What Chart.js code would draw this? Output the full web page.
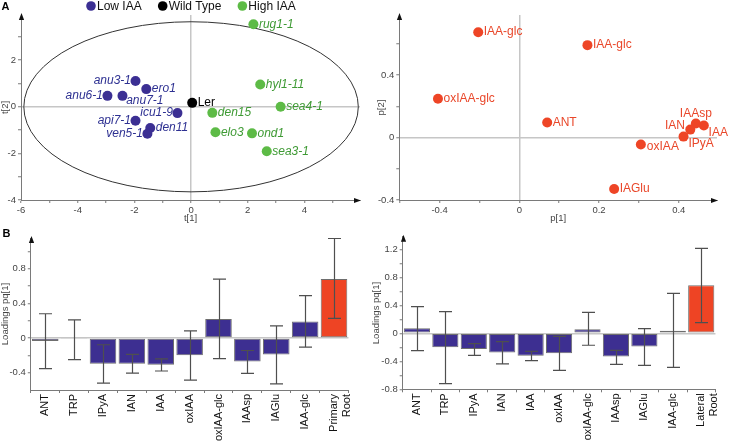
<!DOCTYPE html>
<html>
<head>
<meta charset="utf-8">
<script src="https://cdn.jsdelivr.net/npm/chart.js@4.4.1/dist/chart.umd.min.js"></script>
<style>
  html, body { margin:0; padding:0; background:#fff; }
  body { width:729px; height:441px; position:relative; overflow:hidden; }
  canvas { position:absolute; }
</style>
</head>
<body>
<canvas id="scores" width="365" height="228" style="left:0px;top:0px"></canvas>
<canvas id="loadings" width="364" height="228" style="left:365px;top:0px"></canvas>
<canvas id="primary" width="362" height="213" style="left:0px;top:228px"></canvas>
<canvas id="lateral" width="367" height="213" style="left:362px;top:228px"></canvas>
<script>
// ---------------- DATA ----------------
// Panel A, left: PCA scores t[1] / t[2]
const lowIAANames  = ['anu3-1','ero1','anu6-1','anu7-1','icu1-9','api7-1','den11','ven5-1'];
const lowIAAT1     = [-1.96,-1.58,-2.95,-2.42,-0.48,-1.96,-1.44,-1.54];
const lowIAAT2     = [ 1.11, 0.76, 0.47, 0.47,-0.27,-0.60,-0.91,-1.16];
const wildTypeNames = ['Ler'];
const wildTypeT1    = [0.04];
const wildTypeT2    = [0.17];
const highIAANames = ['rug1-1','hyl1-11','sea4-1','den15','elo3','ond1','sea3-1'];
const highIAAT1    = [2.20, 2.44, 3.16, 0.75, 0.86, 2.15, 2.67];
const highIAAT2    = [3.54, 0.96, 0.00,-0.26,-1.09,-1.14,-1.91];
const hotellingT1 = 5.9;   // ellipse half-width  (t[1] units)
const hotellingT2 = 3.65;  // ellipse half-height (t[2] units)

// Panel A, right: PCA loadings p[1] / p[2]
const loadingNames = ['IAA-glc','IAA-glc','oxIAA-glc','ANT','IAAsp','IAN','IAA','IPyA','oxIAA','IAGlu'];
const loadingP1    = [-0.103, 0.171,-0.204, 0.070, 0.443, 0.429, 0.463, 0.412, 0.305, 0.238];
const loadingP2    = [ 0.675, 0.592, 0.248, 0.096, 0.090, 0.051, 0.077, 0.006,-0.045,-0.329];
const loadingP1TickText = {'-0.2':'-0.4', '0':'0', '0.2':'0.2', '0.4':'0.4'};

// Panel B: loadings pq[1] with error bars
const metabolites = ['ANT','TRP','IPyA','IAN','IAA','oxIAA','oxIAA-glc','IAAsp','IAGlu','IAA-glc'];
const primaryCategories = [...metabolites, ['Primary','Root']];
const primaryLoading  = [-0.035,-0.012,-0.296,-0.296,-0.310,-0.200, 0.218,-0.272,-0.190, 0.190, 0.680];
const primaryErrUpper = [ 0.280, 0.210,-0.078,-0.190,-0.241, 0.082, 0.680,-0.144, 0.140, 0.490, 1.148];
const primaryErrLower = [-0.354,-0.250,-0.520,-0.405,-0.381,-0.486,-0.237,-0.408,-0.530,-0.105, 0.226];

const lateralCategories = [...metabolites, ['Lateral','Root']];
const lateralLoading  = [ 0.071,-0.200,-0.224,-0.276,-0.319,-0.286, 0.057,-0.333,-0.190, 0.038, 0.686];
const lateralErrUpper = [ 0.380, 0.310,-0.148,-0.120,-0.257,-0.043, 0.300,-0.243, 0.067, 0.571, 1.214];
const lateralErrLower = [-0.248,-0.720,-0.314,-0.438,-0.390,-0.529,-0.171,-0.443,-0.457,-0.486, 0.152];

// ---------------- STYLE ----------------
const FONT = "'Liberation Sans', Arial, Helvetica, sans-serif";
Chart.defaults.font.family = FONT;
Chart.defaults.color = '#444';
const AXIS = '#7a7a7a', TICK_TXT = '#444', ZERO = '#c6c6c6';
const BLUE = '#3B2F93', BLUE_TXT = '#2E3192';
const GREEN = '#5DBB46', GREEN_TXT = '#3E9A34';
const RED = '#EE4526', RED_TXT = '#E9472A';
const BAR_BLUE = '#3D2F91', BAR_RED = '#EE4424';

const PLACES = {
  left:       {dx:-4.5, dy:0,    align:'right'},
  right:      {dx: 5.5, dy:0,    align:'left'},
  belowRight: {dx: 3.7, dy:5.3,  align:'left'},
  above:      {dx: 0,   dy:-9.7, align:'center'},
  leftUp:     {dx:-5.3, dy:-3.7, align:'right'},
  rightDown:  {dx: 4.7, dy:7.3,  align:'left'},
  lowRight:   {dx: 5.0, dy:7.0,  align:'left'},
  rightLow:   {dx: 6.0, dy:2.3,  align:'left'}
};
const scorePlace = {'anu3-1':'left','ero1':'right','anu6-1':'left','anu7-1':'belowRight','icu1-9':'left',
                    'api7-1':'left','den11':'right','ven5-1':'left'};
const loadingPlace = {'IAAsp':'above','IAN':'leftUp','IAA':'rightDown','IPyA':'lowRight','oxIAA':'rightLow'};

function tenths(v){ return Math.round(v*10); }
function fmt1(v){ const r = tenths(v)/10; return String(r === 0 ? 0 : r); }

function linearAxis(cfg){
  return {
    type:'linear', min:cfg.min, max:cfg.max,
    border:{display:true, color:AXIS, width:1},
    grid:{display:true, drawOnChartArea:true, drawTicks:true, tickLength:3, tickColor:AXIS, tickWidth:1,
          color: c => (c.tick && Math.abs(c.tick.value) < 1e-9) ? ZERO : 'rgba(0,0,0,0)', lineWidth:1.5},
    ticks:{stepSize:cfg.step, includeBounds:false, autoSkip:false, maxRotation:0, minRotation:0,
           padding:2, color:TICK_TXT, font:{size:9.5}, callback:cfg.label},
    title:{display:true, text:cfg.title, color:TICK_TXT, font:{size:9.5}, padding:cfg.titlePad},
    afterFit: cfg.fit
  };
}

function arrowsPlugin(up, right){
  return {id:'arrows', afterDraw(chart){
    const {ctx, chartArea:a} = chart; ctx.save(); ctx.fillStyle = '#111';
    if (up){ const x = Math.round(a.left)+0.5; ctx.beginPath(); ctx.moveTo(x, a.top-2);
      ctx.lineTo(x-2.6, a.top+5); ctx.lineTo(x+2.6, a.top+5); ctx.closePath(); ctx.fill(); }
    if (right){ const y = Math.round(a.bottom)+0.5; ctx.beginPath(); ctx.moveTo(a.right+1, y);
      ctx.lineTo(a.right-6, y-2.6); ctx.lineTo(a.right-6, y+2.6); ctx.closePath(); ctx.fill(); }
    ctx.restore();
  }};
}
function letterPlugin(txt, x, y){
  return {id:'letter', afterDraw(chart){
    const ctx = chart.ctx; ctx.save(); ctx.font = 'bold 11px ' + FONT; ctx.fillStyle = '#000';
    ctx.textAlign = 'left'; ctx.textBaseline = 'middle'; ctx.fillText(txt, x, y); ctx.restore();
  }};
}
function pointLabelPlugin(placeMap){
  return {id:'ptLabels', afterDatasetsDraw(chart){
    const ctx = chart.ctx; ctx.save(); ctx.textBaseline = 'middle';
    chart.data.datasets.forEach((ds, di) => {
      ctx.font = ds.labelFont;
      chart.getDatasetMeta(di).data.forEach((pt, i) => {
        const name = ds.data[i].name; const p = PLACES[placeMap[name] || 'right'];
        ctx.fillStyle = ds.labelColor; ctx.textAlign = p.align;
        ctx.fillText(name, pt.x + p.dx, pt.y + p.dy);
      });
    });
    ctx.restore();
  }};
}
const ellipsePlugin = {id:'ellipse', beforeDatasetsDraw(chart){
  const {ctx, scales:{x, y}} = chart;
  const cx = x.getPixelForValue(0), cy = y.getPixelForValue(0);
  const rx = x.getPixelForValue(hotellingT1) - cx, ry = cy - y.getPixelForValue(hotellingT2);
  ctx.save(); ctx.strokeStyle = '#333'; ctx.lineWidth = 1; ctx.beginPath();
  ctx.ellipse(cx, cy, rx, ry, 0, 0, Math.PI*2); ctx.stroke(); ctx.restore();
}};
const dotLegendPlugin = {id:'dotLegend', afterDraw(chart){
  const ctx = chart.ctx; ctx.save(); ctx.font = '12px ' + FONT; ctx.textBaseline = 'middle'; ctx.textAlign = 'left';
  let x = 91; const y = 6;
  chart.data.datasets.forEach(ds => {
    ctx.fillStyle = ds.backgroundColor; ctx.beginPath(); ctx.arc(x, y, 4.8, 0, Math.PI*2); ctx.fill();
    ctx.fillStyle = '#111'; ctx.fillText(ds.label, x+6, y+0.5);
    x += 6 + ctx.measureText(ds.label).width + 21;
  });
  ctx.restore();
}};
const errorBarPlugin = {id:'errorBars', afterDatasetsDraw(chart){
  const ctx = chart.ctx, ys = chart.scales.y;
  chart.data.datasets.forEach((ds, di) => {
    chart.getDatasetMeta(di).data.forEach((bar, i) => {
      const x = Math.round(bar.x) + 0.5;
      const yh = ys.getPixelForValue(ds.errHigh[i]), yl = ys.getPixelForValue(ds.errLow[i]);
      const cw = 6.5;
      ctx.save(); ctx.strokeStyle = '#4f4f4f'; ctx.lineWidth = 1.2; ctx.beginPath();
      ctx.moveTo(x, yh); ctx.lineTo(x, yl);
      ctx.moveTo(x-cw, yh); ctx.lineTo(x+cw, yh);
      ctx.moveTo(x-cw, yl); ctx.lineTo(x+cw, yl);
      ctx.stroke(); ctx.restore();
    });
  });
}};

function pts(names, xs, ys){ return names.map((n, i) => ({x:xs[i], y:ys[i], name:n})); }
const baseOpts = {responsive:false, devicePixelRatio:1, animation:false};
const ITALIC12 = 'italic 12px ' + FONT, REG12 = '12px ' + FONT;

// ---------------- PANEL A left: scores ----------------
new Chart(document.getElementById('scores'), {
  type:'scatter',
  data:{datasets:[
    {label:'Low IAA',   data:pts(lowIAANames, lowIAAT1, lowIAAT2),       backgroundColor:BLUE,  labelColor:BLUE_TXT,  labelFont:ITALIC12, pointRadius:5, pointBorderWidth:0},
    {label:'Wild Type', data:pts(wildTypeNames, wildTypeT1, wildTypeT2), backgroundColor:'#000', labelColor:'#000',   labelFont:REG12,    pointRadius:5, pointBorderWidth:0},
    {label:'High IAA',  data:pts(highIAANames, highIAAT1, highIAAT2),    backgroundColor:GREEN, labelColor:GREEN_TXT, labelFont:ITALIC12, pointRadius:5, pointBorderWidth:0}
  ]},
  options:{...baseOpts,
    layout:{padding:{left:0, top:15, right:5, bottom:0}},
    plugins:{legend:{display:false}, tooltip:{enabled:false}},
    scales:{
      x: linearAxis({min:-6, max:5.96, step:1, title:'t[1]', titlePad:{top:0, bottom:4.3},
                     label:v => (Math.round(v) % 2 === 0 ? String(Math.round(v)) : ''), fit:s => { s.height = 28; }}),
      y: linearAxis({min:-4, max:3.94, step:1, title:'t[2]', titlePad:{top:0, bottom:0},
                     label:v => (Math.round(v) % 2 === 0 ? String(Math.round(v)) : ''), fit:s => { s.width = 21; }})
    }
  },
  plugins:[ellipsePlugin, pointLabelPlugin(scorePlace), arrowsPlugin(true, true), dotLegendPlugin, letterPlugin('A', 1.5, 7.3)]
});

// ---------------- PANEL A right: loadings ----------------
new Chart(document.getElementById('loadings'), {
  type:'scatter',
  data:{datasets:[
    {label:'Metabolites', data:pts(loadingNames, loadingP1, loadingP2), backgroundColor:RED, labelColor:RED_TXT, labelFont:REG12, pointRadius:5, pointBorderWidth:0}
  ]},
  options:{...baseOpts,
    layout:{padding:{left:0, top:15, right:12, bottom:0}},
    plugins:{legend:{display:false}, tooltip:{enabled:false}},
    scales:{
      x: linearAxis({min:-0.301, max:0.496, step:0.1, title:'p[1]', titlePad:{top:0, bottom:4.3},
                     label:v => { const k = fmt1(v); return loadingP1TickText[k] !== undefined ? loadingP1TickText[k] : ''; },
                     fit:s => { s.height = 28; }}),
      y: linearAxis({min:-0.4, max:0.785, step:0.2, title:'p[2]', titlePad:{top:11, bottom:0},
                     label:v => (tenths(v) % 4 === 0 ? fmt1(v) : ''), fit:s => { s.width = 34.3; }})
    }
  },
  plugins:[pointLabelPlugin(loadingPlace), arrowsPlugin(true, true)]
});

// ---------------- PANEL B: bar charts ----------------
function barChart(id, cats, vals, hi, lo, cfg, extraPlugins){
  const last = vals.length - 1;
  return new Chart(document.getElementById(id), {
    type:'bar',
    data:{labels:cats, datasets:[{label:'Loadings pq[1]', data:vals, errHigh:hi, errLow:lo,
      backgroundColor: c => c.dataIndex === last ? BAR_RED : BAR_BLUE,
      borderColor:'#6e6e6e', borderWidth:1, borderSkipped:false, barPercentage:0.92, categoryPercentage:1}]},
    options:{...baseOpts,
      layout:{padding:cfg.padding},
      plugins:{legend:{display:false}, tooltip:{enabled:false}},
      scales:{
        x:{type:'category', border:{display:true, color:AXIS, width:1},
           grid:{display:true, drawOnChartArea:false, drawTicks:true, tickLength:3, tickColor:AXIS, offset:true},
           ticks:{autoSkip:false, minRotation:90, maxRotation:90, padding:1, color:'#111', font:{size:11}},
           afterFit: s => { s.height = cfg.xh; }},
        y: linearAxis({min:cfg.min, max:cfg.max, step:0.2, title:'Loadings pq[1]', titlePad:cfg.titlePad,
                       label:v => (tenths(v) % 4 === 0 ? fmt1(v) : ''), fit:s => { s.width = cfg.yw; }})
      }
    },
    plugins:[errorBarPlugin, arrowsPlugin(true, false), ...extraPlugins]
  });
}
barChart('primary', primaryCategories, primaryLoading, primaryErrUpper, primaryErrLower,
  {padding:{left:0, top:10, right:13, bottom:0}, xh:51, yw:30.8, min:-0.6, max:1.154, titlePad:{top:0, bottom:0}},
  [letterPlugin('B', 2.5, 6)]);
barChart('lateral', lateralCategories, lateralLoading, lateralErrUpper, lateralErrLower,
  {padding:{left:0, top:8.7, right:8, bottom:0}, xh:51.7, yw:40.7, min:-0.8, max:1.38, titlePad:{top:8.3, bottom:0}},
  []);
</script>
</body>
</html>
